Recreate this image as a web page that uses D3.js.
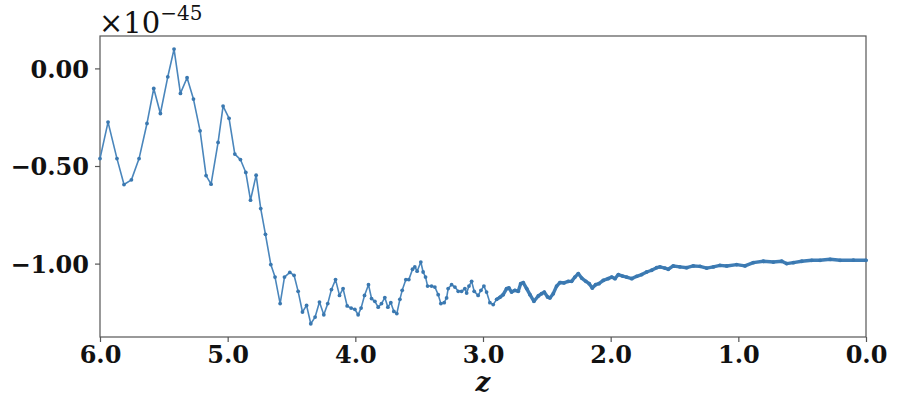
<!DOCTYPE html>
<html>
<head>
<meta charset="utf-8">
<script src="https://cdn.jsdelivr.net/npm/d3@7"></script>
<style>
  html, body { margin: 0; padding: 0; background: #fff; }
  svg { display: block; }
</style>
</head>
<body>
<svg id="chart" width="897" height="414"></svg>
<script>
// redshift values (x) and signal values (y, in units of 1e-45)
const zValues = [
  6.000, 5.937, 5.867, 5.812, 5.754, 5.694, 5.632, 5.579, 5.527, 5.469,
  5.420, 5.370, 5.318, 5.268, 5.216, 5.169, 5.130, 5.075, 5.036, 4.989,
  4.944, 4.900, 4.858, 4.821, 4.777, 4.741, 4.704, 4.662, 4.629, 4.589,
  4.555, 4.513, 4.480, 4.448, 4.414, 4.382, 4.349, 4.315, 4.281, 4.247,
  4.216, 4.187, 4.155, 4.124, 4.096, 4.064, 4.033, 4.004, 3.978, 3.955,
  3.928, 3.897, 3.873, 3.847, 3.821, 3.795, 3.769, 3.745, 3.722, 3.698,
  3.675, 3.651, 3.633, 3.604, 3.581, 3.552, 3.534, 3.516, 3.487, 3.469,
  3.450, 3.434, 3.403, 3.377, 3.351, 3.330, 3.304, 3.285, 3.273, 3.246,
  3.220, 3.194, 3.168, 3.142, 3.128, 3.110, 3.089, 3.069, 3.038, 3.016,
  2.993, 2.972, 2.946, 2.920, 2.893, 2.868, 2.842, 2.815, 2.797, 2.776,
  2.750, 2.724, 2.705, 2.685, 2.658, 2.632, 2.601, 2.567, 2.541, 2.520,
  2.494, 2.476, 2.450, 2.423, 2.397, 2.366, 2.332, 2.306, 2.280, 2.254,
  2.227, 2.194, 2.168, 2.144, 2.118, 2.092, 2.058, 2.020, 1.992, 1.966,
  1.940, 1.906, 1.875, 1.835, 1.796, 1.757, 1.718, 1.679, 1.640, 1.614,
  1.575, 1.549, 1.510, 1.457, 1.404, 1.353, 1.300, 1.248, 1.196, 1.144,
  1.091, 1.013, 0.948, 0.883, 0.804, 0.726, 0.660, 0.621, 0.569, 0.503,
  0.425, 0.360, 0.281, 0.203, 0.099, 0.000
];
const signalValues = [
  -0.462, -0.275, -0.462, -0.595, -0.571, -0.462, -0.282, -0.103, -0.231, -0.043,
   0.099, -0.128, -0.048, -0.157, -0.320, -0.549, -0.593, -0.379, -0.193, -0.256,
  -0.439, -0.467, -0.533, -0.675, -0.547, -0.718, -0.850, -1.005, -1.069, -1.205,
  -1.069, -1.045, -1.060, -1.142, -1.248, -1.214, -1.308, -1.274, -1.197, -1.262,
  -1.205, -1.133, -1.082, -1.163, -1.128, -1.217, -1.228, -1.234, -1.262, -1.228,
  -1.163, -1.108, -1.179, -1.193, -1.223, -1.205, -1.174, -1.223, -1.200, -1.245,
  -1.256, -1.183, -1.137, -1.082, -1.082, -1.029, -1.017, -1.039, -0.992, -1.043,
  -1.069, -1.115, -1.115, -1.120, -1.159, -1.205, -1.200, -1.176, -1.128, -1.108,
  -1.120, -1.142, -1.142, -1.128, -1.151, -1.115, -1.091, -1.142, -1.163, -1.137,
  -1.115, -1.146, -1.200, -1.210, -1.183, -1.173, -1.159, -1.128, -1.125, -1.146,
  -1.137, -1.142, -1.103, -1.097, -1.128, -1.159, -1.193, -1.166, -1.154, -1.146,
  -1.171, -1.176, -1.154, -1.115, -1.097, -1.099, -1.091, -1.091, -1.069, -1.051,
  -1.074, -1.091, -1.103, -1.125, -1.108, -1.103, -1.086, -1.077, -1.069, -1.077,
  -1.056, -1.064, -1.069, -1.077, -1.065, -1.056, -1.043, -1.034, -1.021, -1.017,
  -1.023, -1.029, -1.012, -1.017, -1.021, -1.012, -1.014, -1.023, -1.017, -1.009,
  -1.012, -1.005, -1.012, -0.995, -0.988, -0.992, -0.988, -1.000, -0.995, -0.988,
  -0.983, -0.983, -0.978, -0.983, -0.982, -0.983
];
const xTickValues = [6, 5, 4, 3, 2, 1, 0];
const xTickLabels = ["6.0", "5.0", "4.0", "3.0", "2.0", "1.0", "0.0"];
const yTickValues = [0, -0.5, -1.0];
const yTickLabels = ["0.00", "\u22120.50", "\u22121.00"];
const xDomain = [6, 0];
const yDomain = [-1.376, 0.166];
const denseBelowZ = 2.9;

const svg = d3.select("#chart");
const margin = { left: 100, top: 36, right: 31, bottom: 77 };
const W = 897, H = 414;
const x = d3.scaleLinear().domain(xDomain).range([margin.left, W - margin.right]);
const y = d3.scaleLinear().domain(yDomain).range([H - margin.bottom, margin.top]);

const data = zValues.map((z, i) => ({ z, v: signalValues[i] }));

const tickFont = "'DejaVu Serif', 'Liberation Serif', serif";

// Axes
const xAxis = d3.axisBottom(x).tickValues(xTickValues)
  .tickFormat((d, i) => xTickLabels[i]).tickSize(5).tickPadding(5);
const gx = svg.append("g").attr("transform", `translate(0,${H - margin.bottom})`).call(xAxis);
gx.select(".domain").remove();
gx.selectAll(".tick line").attr("stroke", "#555").attr("stroke-width", 1.2);
gx.selectAll(".tick text").attr("fill", "#111").attr("font-family", tickFont)
  .attr("font-weight", "bold").attr("font-size", 24).attr("dy", "0.67em");

const yAxis = d3.axisLeft(y).tickValues(yTickValues)
  .tickFormat((d, i) => yTickLabels[i]).tickSize(5).tickPadding(6);
const gy = svg.append("g").attr("transform", `translate(${margin.left},0)`).call(yAxis);
gy.select(".domain").remove();
gy.selectAll(".tick line").attr("stroke", "#555").attr("stroke-width", 1.2);
gy.selectAll(".tick text").attr("fill", "#111").attr("font-family", tickFont)
  .attr("font-weight", "bold").attr("font-size", 24).attr("dy", "0.36em");

// Frame
svg.append("rect")
  .attr("x", x(xDomain[0])).attr("y", y(yDomain[1]))
  .attr("width", x(xDomain[1]) - x(xDomain[0]))
  .attr("height", y(yDomain[0]) - y(yDomain[1]))
  .attr("fill", "none").attr("stroke", "#555").attr("stroke-width", 1.2);

// Data
const line = d3.line().x(d => x(d.z)).y(d => y(d.v));
svg.append("path").datum(data).attr("d", line)
  .attr("fill", "none").attr("stroke", "#4a86bc").attr("stroke-width", 1.6)
  .attr("stroke-linejoin", "round");
svg.append("path").datum(data.filter(d => d.z <= denseBelowZ)).attr("d", line)
  .attr("fill", "none").attr("stroke", "#3f7db5").attr("stroke-width", 3.4)
  .attr("stroke-linejoin", "round").attr("stroke-linecap", "round");
svg.append("g").selectAll("circle").data(data).join("circle")
  .attr("cx", d => x(d.z)).attr("cy", d => y(d.v)).attr("r", 1.9)
  .attr("fill", "#3a78b0");

// Offset text
const off = svg.append("text").attr("x", 99).attr("y", 33)
  .attr("font-family", "'DejaVu Serif', 'Liberation Serif', serif")
  .attr("font-size", 29).attr("fill", "#111");
off.append("tspan").text("\u00d710");
off.append("tspan").attr("font-size", 20).attr("dy", -13).text("\u221245");

// x label
svg.append("text").attr("x", (x(6) + x(0)) / 2).attr("y", 391)
  .attr("text-anchor", "middle")
  .attr("font-family", "'DejaVu Serif', 'Liberation Serif', serif")
  .attr("font-style", "italic").attr("font-weight", "bold")
  .attr("font-size", 26).attr("fill", "#111").text("z");
</script>
</body>
</html>
